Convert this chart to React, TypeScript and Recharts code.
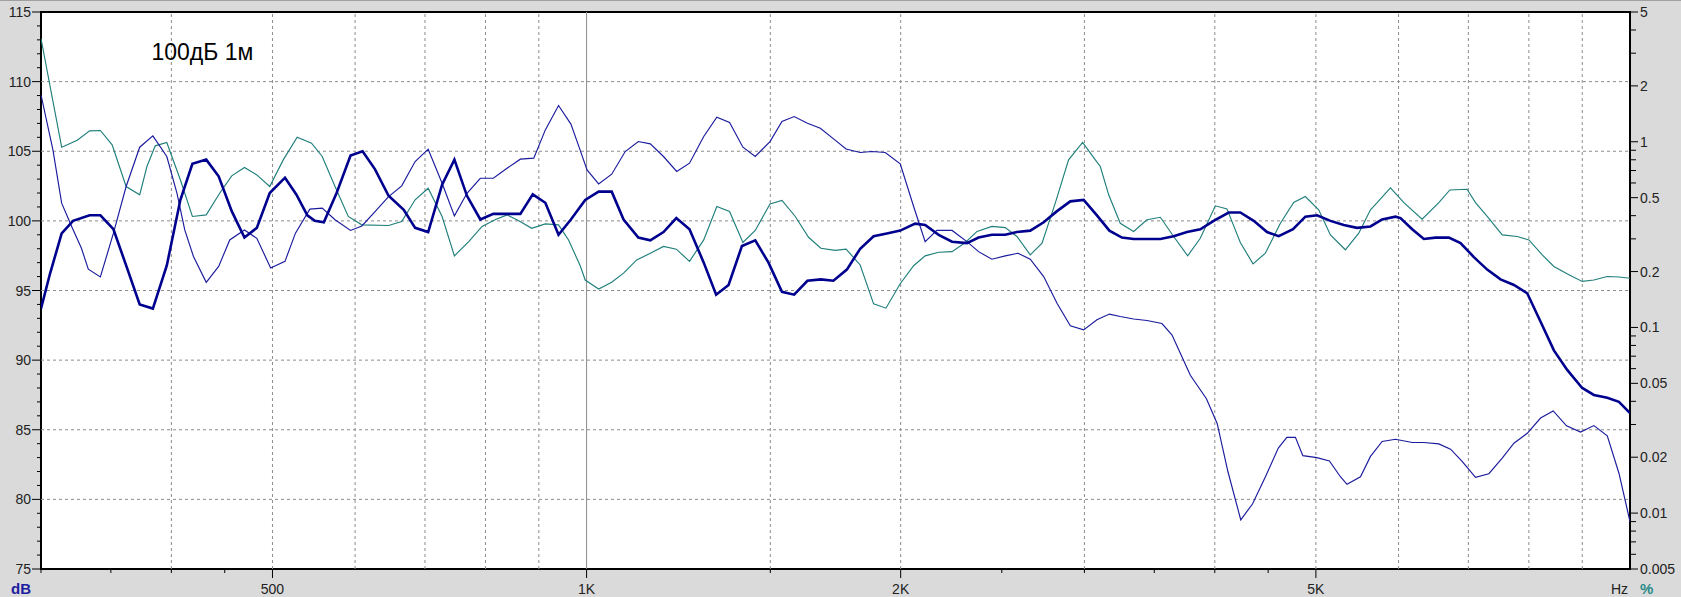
import React from "react";
import { LineChart, Line, XAxis, YAxis, ReferenceLine, ReferenceArea, CartesianGrid } from "recharts";

// frequency response, dB
const respFreq = [300, 306, 314, 322, 334, 342, 352, 362, 373, 384, 396, 408, 419, 432, 444, 457, 470, 483, 497, 514, 527, 540, 549, 560, 576, 594, 610, 627, 646, 668, 685, 705, 727, 747, 768, 791, 814, 864, 888, 913, 940, 966, 997, 1027, 1057, 1085, 1121, 1151, 1185, 1219, 1255, 1295, 1331, 1368, 1409, 1451, 1494, 1539, 1581, 1628, 1677, 1724, 1776, 1829, 1884, 1940, 1998, 2065, 2111, 2175, 2240, 2315, 2375, 2446, 2519, 2585, 2662, 2742, 2824, 2908, 2995, 3084, 3170, 3259, 3344, 3444, 3547, 3653, 3762, 3874, 3990, 4125, 4232, 4359, 4489, 4606, 4754, 4885, 5013, 5163, 5317, 5475, 5640, 5787, 5960, 6026, 6184, 6345, 6510, 6705, 6880, 7085, 7297, 7515, 7740, 7971, 8239, 8454, 8706, 8999, 9234, 9511, 9759, 10000];
const respDb = [93.7, 96.2, 99.1, 100.0, 100.4, 100.4, 99.4, 96.8, 94.0, 93.7, 96.8, 101.5, 104.1, 104.4, 103.2, 100.7, 98.8, 99.5, 102.0, 103.1, 101.9, 100.4, 100.0, 99.9, 102.0, 104.7, 105.0, 103.7, 101.8, 100.8, 99.5, 99.2, 102.6, 104.4, 101.8, 100.1, 100.5, 100.5, 101.9, 101.3, 99.0, 100.1, 101.5, 102.1, 102.1, 100.1, 98.8, 98.6, 99.2, 100.2, 99.4, 97.0, 94.7, 95.4, 98.2, 98.6, 97.0, 94.9, 94.7, 95.7, 95.8, 95.7, 96.5, 98.0, 98.9, 99.1, 99.3, 99.8, 99.7, 99.0, 98.5, 98.4, 98.8, 99.0, 99.0, 99.2, 99.3, 99.9, 100.7, 101.4, 101.5, 100.4, 99.3, 98.8, 98.7, 98.7, 98.7, 98.9, 99.2, 99.4, 100.0, 100.6, 100.6, 100.0, 99.2, 98.9, 99.4, 100.3, 100.4, 100.0, 99.7, 99.5, 99.6, 100.1, 100.3, 100.2, 99.4, 98.7, 98.8, 98.8, 98.4, 97.4, 96.5, 95.8, 95.4, 94.8, 92.5, 90.7, 89.3, 88.0, 87.5, 87.3, 87.0, 86.2];

// K2 (teal), %
const k2Freq = [300, 314, 325, 334, 342, 351, 362, 373, 379, 386, 396, 408, 419, 432, 445, 457, 470, 483, 497, 512, 528, 545, 558, 574, 591, 609, 646, 665, 685, 705, 727, 747, 771, 794, 817, 839, 861, 886, 913, 940, 961, 986, 997, 1027, 1057, 1085, 1117, 1151, 1185, 1219, 1255, 1295, 1333, 1371, 1412, 1451, 1499, 1539, 1585, 1632, 1677, 1731, 1773, 1829, 1884, 1936, 1998, 2058, 2111, 2175, 2240, 2307, 2367, 2446, 2519, 2585, 2662, 2732, 2813, 2897, 2988, 3073, 3107, 3165, 3247, 3344, 3444, 3547, 3653, 3768, 3874, 4005, 4109, 4232, 4352, 4472, 4623, 4761, 4885, 5031, 5163, 5336, 5496, 5640, 5724, 5894, 6071, 6321, 6558, 6720, 6980, 7111, 7297, 7543, 7797, 8000, 8239, 8454, 8738, 8999, 9234, 9511, 9759, 10000];
const k2Pct = [3.6, 0.935, 1.02, 1.145, 1.15, 0.963, 0.574, 0.518, 0.736, 0.951, 0.991, 0.624, 0.396, 0.404, 0.528, 0.655, 0.727, 0.663, 0.574, 0.799, 1.058, 0.982, 0.833, 0.574, 0.396, 0.357, 0.354, 0.372, 0.487, 0.562, 0.396, 0.243, 0.29, 0.35, 0.38, 0.404, 0.376, 0.342, 0.361, 0.357, 0.296, 0.215, 0.18, 0.161, 0.175, 0.196, 0.231, 0.251, 0.273, 0.264, 0.227, 0.296, 0.448, 0.421, 0.287, 0.333, 0.463, 0.483, 0.396, 0.306, 0.267, 0.26, 0.264, 0.217, 0.134, 0.127, 0.172, 0.215, 0.243, 0.254, 0.256, 0.287, 0.329, 0.35, 0.345, 0.309, 0.246, 0.284, 0.467, 0.799, 0.991, 0.799, 0.736, 0.518, 0.364, 0.329, 0.38, 0.392, 0.309, 0.243, 0.302, 0.452, 0.435, 0.287, 0.22, 0.251, 0.364, 0.471, 0.507, 0.43, 0.315, 0.262, 0.322, 0.43, 0.47, 0.565, 0.47, 0.383, 0.47, 0.55, 0.555, 0.47, 0.396, 0.315, 0.309, 0.296, 0.246, 0.213, 0.192, 0.177, 0.18, 0.188, 0.187, 0.184];

// K3 (thin blue), %
const k3Freq = [300, 308, 314, 321, 328, 333, 342, 352, 362, 373, 384, 396, 405, 412, 420, 432, 444, 455, 470, 483, 498, 514, 526, 543, 558, 574, 594, 609, 627, 646, 665, 685, 705, 727, 747, 768, 791, 814, 839, 864, 890, 913, 940, 966, 984, 1001, 1027, 1057, 1089, 1121, 1151, 1185, 1220, 1255, 1295, 1333, 1371, 1412, 1451, 1499, 1539, 1581, 1628, 1675, 1727, 1773, 1829, 1877, 1933, 1998, 2058, 2111, 2166, 2240, 2315, 2375, 2446, 2519, 2591, 2662, 2742, 2824, 2908, 2995, 3084, 3170, 3247, 3344, 3444, 3560, 3640, 3707, 3790, 3927, 4021, 4118, 4236, 4347, 4473, 4602, 4689, 4779, 4858, 5011, 5151, 5278, 5355, 5517, 5640, 5787, 5960, 6184, 6345, 6558, 6730, 6904, 7111, 7324, 7543, 7740, 7971, 8209, 8441, 8693, 8966, 9234, 9511, 9759, 10000];
const k3Pct = [1.79, 0.905, 0.467, 0.35, 0.267, 0.206, 0.187, 0.322, 0.574, 0.935, 1.076, 0.833, 0.528, 0.335, 0.241, 0.175, 0.213, 0.296, 0.335, 0.302, 0.209, 0.227, 0.322, 0.434, 0.439, 0.38, 0.333, 0.352, 0.421, 0.507, 0.579, 0.783, 0.912, 0.598, 0.399, 0.528, 0.636, 0.636, 0.72, 0.806, 0.816, 1.159, 1.568, 1.245, 0.93, 0.706, 0.593, 0.669, 0.886, 1.003, 0.974, 0.833, 0.692, 0.767, 1.067, 1.356, 1.269, 0.935, 0.833, 1.003, 1.286, 1.368, 1.259, 1.183, 1.03, 0.915, 0.875, 0.886, 0.875, 0.761, 0.448, 0.29, 0.333, 0.333, 0.29, 0.256, 0.233, 0.243, 0.251, 0.233, 0.188, 0.135, 0.102, 0.097, 0.11, 0.118, 0.1145, 0.111, 0.109, 0.105, 0.091, 0.0727, 0.0553, 0.0413, 0.0304, 0.0167, 0.0092, 0.0112, 0.0157, 0.0224, 0.0256, 0.0256, 0.0204, 0.0199, 0.0191, 0.0157, 0.0143, 0.0157, 0.0202, 0.0243, 0.025, 0.024, 0.024, 0.0236, 0.0221, 0.019, 0.0156, 0.0163, 0.0198, 0.0238, 0.0269, 0.0325, 0.0355, 0.0295, 0.0273, 0.0296, 0.0261, 0.0164, 0.009];

// axes
const xTicks = [300, 350, 400, 450, 500, 1000, 1500, 2000, 2500, 3000, 3500, 4000, 4500, 5000];
const xMajor = [500, 1000, 2000, 5000];
const xGrid = [400, 500, 600, 700, 800, 900, 1500, 2000, 3000, 4000, 5000, 6000, 7000, 8000, 9000];
const dbMajor = [75, 80, 85, 90, 95, 100, 105, 110, 115];
const dbGrid = [80, 85, 90, 95, 100, 105, 110];
const pctMajor = [5, 2, 1, 0.5, 0.2, 0.1, 0.05, 0.02, 0.01, 0.005];
const pctMinor = [4, 3, 0.9, 0.8, 0.7, 0.6, 0.4, 0.3, 0.09, 0.08, 0.07, 0.06, 0.04, 0.03, 0.009, 0.008, 0.007, 0.006];

const dbTicks: number[] = [];
for (let d = 75; d <= 115; d++) dbTicks.push(d);
const pctTicks = [...pctMajor, ...pctMinor];

const FONT = '"Liberation Sans", Arial, sans-serif';
const GRID = "#8c8c8c";

const toPoints = (fs: number[], vs: number[]) => fs.map((f, i) => ({ f, v: vs[i] }));
const respData = toPoints(respFreq, respDb);
const k2Data = toPoints(k2Freq, k2Pct);
const k3Data = toPoints(k3Freq, k3Pct);

const fmtHz = (v: number) => (v >= 1000 ? `${v / 1000}K` : `${v}`);

const DbTick = ({ x, y, payload }: any) => {
  const v = payload.value;
  const major = dbMajor.includes(v);
  return (
    <g>
      <line x1={x - (major ? 9 : 4)} x2={x} y1={y} y2={y} stroke="#000" />
      {major && (
        <text x={x - 10} y={y + 5} textAnchor="end" fontSize={14} fontFamily={FONT} fill="#222">
          {v}
        </text>
      )}
    </g>
  );
};

const PctTick = ({ x, y, payload }: any) => {
  const v = payload.value;
  const major = pctMajor.includes(v);
  return (
    <g>
      <line x1={x} x2={x + (major ? 8 : 6)} y1={y} y2={y} stroke="#000" />
      {major && (
        <text x={x + 10} y={y + 5} textAnchor="start" fontSize={14} fontFamily={FONT} fill="#222">
          {String(v)}
        </text>
      )}
    </g>
  );
};

const HzTick = ({ x, y, payload }: any) => {
  const v = payload.value;
  const major = xMajor.includes(v);
  return (
    <g>
      <line x1={x} x2={x} y1={y} y2={y + (major ? 9 : 4)} stroke="#000" />
      {major && (
        <text x={x} y={y + 25} textAnchor="middle" fontSize={14} fontFamily={FONT} fill="#222">
          {fmtHz(v)}
        </text>
      )}
    </g>
  );
};

export default function App() {
  return (
    <div style={{ position: "absolute", left: 0, top: 0, width: 1681, height: 597, background: "#dadada" }}>
      <LineChart width={1681} height={597} margin={{ top: 12, right: 0, bottom: 0, left: 0 }}>
        <CartesianGrid yAxisId="db" horizontal={false} vertical={false} fill="#fff" />
        <XAxis
          dataKey="f"
          type="number"
          scale="log"
          domain={[300, 10000]}
          allowDataOverflow
          ticks={xTicks}
          interval={0}
          tick={HzTick}
          tickSize={0}
          tickMargin={0}
          tickLine={false}
          axisLine={false}
          height={28}
        />
        <YAxis
          yAxisId="db"
          type="number"
          domain={[75, 115]}
          allowDataOverflow
          ticks={dbTicks}
          interval={0}
          tick={DbTick}
          tickSize={0}
          tickMargin={0}
          tickLine={false}
          axisLine={false}
          width={41}
        />
        <YAxis
          yAxisId="pct"
          orientation="right"
          type="number"
          scale="log"
          domain={[0.005, 5]}
          allowDataOverflow
          ticks={pctTicks}
          interval={0}
          tick={PctTick}
          tickSize={0}
          tickMargin={0}
          tickLine={false}
          axisLine={false}
          width={51}
        />
        {dbGrid.map((d) => (
          <ReferenceLine key={`h${d}`} yAxisId="db" y={d} stroke={GRID} strokeDasharray="3 3" />
        ))}
        {xGrid.map((f) => (
          <ReferenceLine key={`v${f}`} yAxisId="db" x={f} stroke={GRID} strokeDasharray="3 3" />
        ))}
        <ReferenceLine yAxisId="db" x={1000} stroke="#8a8a8a" />

        <Line
          data={k2Data}
          yAxisId="pct"
          dataKey="v"
          type="linear"
          stroke="#1f7f7b"
          strokeWidth={1.15}
          dot={false}
          isAnimationActive={false}
        />
        <Line
          data={k3Data}
          yAxisId="pct"
          dataKey="v"
          type="linear"
          stroke="#1a1a9e"
          strokeWidth={1.15}
          dot={false}
          isAnimationActive={false}
        />
        <Line
          data={respData}
          yAxisId="db"
          dataKey="v"
          type="linear"
          stroke="#00008e"
          strokeWidth={2.6}
          dot={false}
          isAnimationActive={false}
        />
        <ReferenceArea
          yAxisId="db"
          x1={300}
          x2={10000}
          y1={75}
          y2={115}
          fill="none"
          stroke="#000"
          strokeWidth={2}
        />
      </LineChart>
      <svg
        width={1681}
        height={597}
        style={{ position: "absolute", left: 0, top: 0, pointerEvents: "none" }}
      >
        <line x1={0} x2={1681} y1={0.5} y2={0.5} stroke="#a0a0a0" />
        <text x={151.5} y={59.5} fontSize={23} fontFamily={FONT} fill="#000">
          100дБ 1м
        </text>
        <text x={11} y={594} fontSize={15} fontWeight="bold" fontFamily={FONT} fill="#1c1ca0">
          dB
        </text>
        <text x={1611} y={594} fontSize={14} fontFamily={FONT} fill="#222">
          Hz
        </text>
        <text x={1640} y={594} fontSize={15} fontWeight="bold" fontFamily={FONT} fill="#2a8a8a">
          %
        </text>
      </svg>
    </div>
  );
}
